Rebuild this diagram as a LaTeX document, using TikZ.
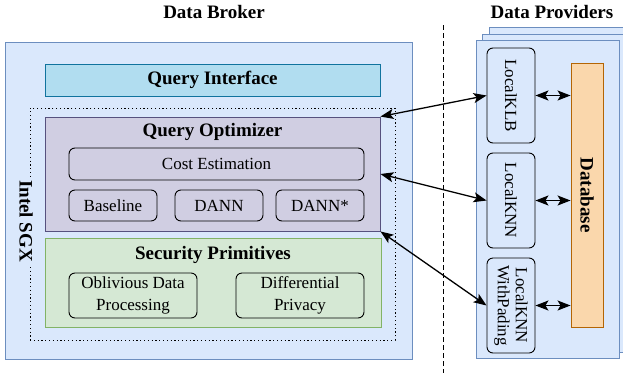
\documentclass[tikz,border=0pt]{standalone}
\usepackage{fontspec}
\setmainfont{Liberation Serif}
\usepackage{tikz}
\usetikzlibrary{arrows.meta,positioning,calc,shapes}

\definecolor{brokerfill}{HTML}{DAE8FC}
\definecolor{brokerline}{HTML}{6C8EBF}
\definecolor{ifacefill}{HTML}{B1DDF0}
\definecolor{ifaceline}{HTML}{10739E}
\definecolor{optfill}{HTML}{D0CEE2}
\definecolor{optline}{HTML}{56517E}
\definecolor{secfill}{HTML}{D5E8D4}
\definecolor{secline}{HTML}{82B366}
\definecolor{dbfill}{HTML}{FAD7AC}
\definecolor{dbline}{HTML}{B46504}

\begin{document}
\begin{tikzpicture}[x=1pt,y=-1pt,
    panel/.style={draw=brokerline,fill=brokerfill,line width=0.9pt,inner sep=0pt},
    layer/.style={line width=0.9pt,inner sep=0pt},
    box/.style={draw=black,rounded corners=6pt,line width=0.9pt,inner sep=0pt,align=center,
        font=\fontsize{17}{19}\selectfont},
    title/.style={inner sep=0pt,font=\fontsize{19}{21}\selectfont\bfseries},
    link/.style={{Stealth[length=13pt,width=10pt,inset=3pt]}-{Stealth[length=13pt,width=10pt,inset=3pt]},line width=1.3pt}]
\useasboundingbox (0,0) rectangle (623,378);

% Headings
\node[title] (brokerhead) at (214,12) {Data Broker};
\node[title] (providerhead) at (552,12) {Data Providers};

% Data broker
\node[panel,minimum width=407,minimum height=317] (broker) at (208.5,200.5) {};
\node[layer,draw=ifaceline,fill=ifacefill,minimum width=335,minimum height=32] (iface) at (212.5,80) {};
\node[title] (ifacetitle) at (iface) {Query Interface};
\node[draw=black,dash pattern=on 1.2pt off 2.6pt,line width=1pt,minimum width=365,minimum height=232,inner sep=0pt] (sgx) at (212.5,224) {};
\node[title,fill=brokerfill,rotate=-90,inner sep=3pt] (sgxtitle) at (26,221) {Intel SGX};

% Query optimizer
\node[layer,draw=optline,fill=optfill,minimum width=335,minimum height=114] (opt) at (212.5,174) {};
\node[title] (opttitle) at (212.5,132) {Query Optimizer};
\node[box,minimum width=295,minimum height=32] (cost) at (216.5,164) {Cost Estimation};
\node[box,minimum width=88,minimum height=31] (baseline) at (113,205.5) {Baseline};
\node[box,minimum width=88,minimum height=31] (dann) at (219,205.5) {DANN};
\node[box,minimum width=88,minimum height=31] (dannstar) at (320,205.5) {DANN*};

% Security primitives
\node[layer,draw=secline,fill=secfill,minimum width=336,minimum height=89] (sec) at (213,282.5) {};
\node[title] (sectitle) at (213,255) {Security Primitives};
\node[box,minimum width=128,minimum height=45,font=\fontsize{17}{22}\selectfont] (odp) at (133,295.5) {Oblivious Data\\Processing};
\node[box,minimum width=128,minimum height=45,font=\fontsize{17}{22}\selectfont] (dp) at (300,295.5) {Differential\\Privacy};

% Border between the two sides
\coordinate (bordertop) at (443,25);
\coordinate (borderbottom) at (443,373);
\draw[dash pattern=on 5pt off 3pt,line width=1pt] (bordertop) -- (borderbottom);

% Data providers (stacked copies behind)
\foreach \d in {13,6}
    \draw[panel] (476+\d,40-\d) rectangle (619+\d,358-\d);
\node[panel,minimum width=143,minimum height=318] (provider) at (547.5,199) {};

% left face of a rotated box is its south anchor
\node[box,fill=brokerfill,rotate=-90,minimum width=95,minimum height=48] (klb) at (511,95.5) {LocalKLB};
\node[box,fill=brokerfill,rotate=-90,minimum width=95,minimum height=48] (knn) at (511,200.5) {LocalKNN};
\node[box,fill=brokerfill,rotate=-90,minimum width=95,minimum height=48,font=\fontsize{17}{18}\selectfont] (knnpad) at (511,305.5) {LocalKNN\\WithPading};
\node[layer,draw=dbline,fill=dbfill,rotate=-90,minimum width=264,minimum height=32] (db) at (587,195) {};
\node[title,rotate=-90] (dbtitle) at (db) {Database};

% Connections
\draw[link] (klb.north) -- (klb.north -| db.south);
\draw[link] (knn.north) -- (knn.north -| db.south);
\draw[link] (knnpad.north) -- (knnpad.north -| db.south);
\draw[link] (klb.south) -- (opt.north east);
\draw[link] (knn.south) -- (opt.east);
\draw[link] (knnpad.south) -- (opt.south east);
\end{tikzpicture}
\end{document}
